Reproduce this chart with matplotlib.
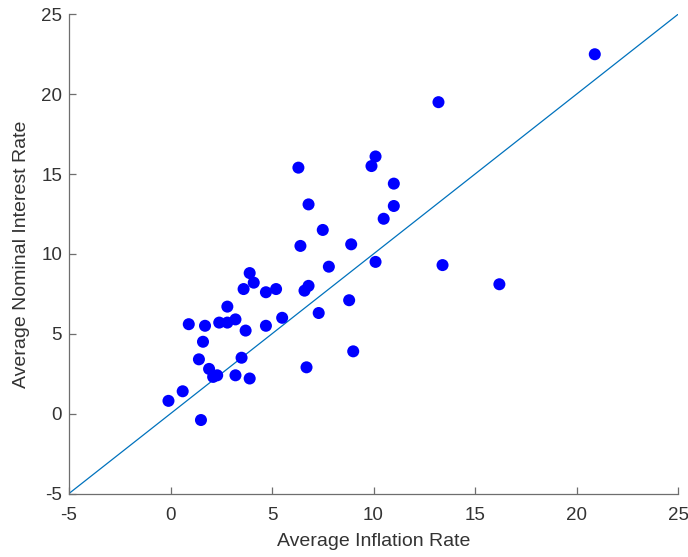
import matplotlib
matplotlib.use("Agg")
import matplotlib.pyplot as plt
import numpy as np

inflation = [-0.1, 0.6, 1.5, 0.9, 1.7, 1.6, 1.4, 1.9, 2.1, 2.3, 2.4, 2.8, 3.2, 2.8,
             3.7, 3.5, 3.2, 3.9, 3.6, 3.9, 4.1, 4.7, 5.2, 4.7, 5.5, 6.7, 6.6, 6.8,
             7.3, 7.8, 8.8, 9.0, 10.1, 6.3, 6.8, 6.4, 7.5, 8.9, 10.1, 9.9, 11.0,
             11.0, 10.5, 13.2, 20.9, 13.4, 16.2]
interest = [0.8, 1.4, -0.4, 5.6, 5.5, 4.5, 3.4, 2.8, 2.3, 2.4, 5.7, 5.7, 5.9, 6.7,
            5.2, 3.5, 2.4, 2.2, 7.8, 8.8, 8.2, 7.6, 7.8, 5.5, 6.0, 2.9, 7.7, 8.0,
            6.3, 9.2, 7.1, 3.9, 9.5, 15.4, 13.1, 10.5, 11.5, 10.6, 16.1, 15.5, 14.4,
            13.0, 12.2, 19.5, 22.5, 9.3, 8.1]
diag = [-5, 25]
xticks = [-5, 0, 5, 10, 15, 20, 25]
yticks = [-5, 0, 5, 10, 15, 20, 25]

plt.rcParams['font.family'] = ['Liberation Sans', 'DejaVu Sans']
fig = plt.figure(figsize=(6.88, 5.57), dpi=100)
ax = fig.add_axes([0.1003, 0.1140, 0.8852, 0.8603])

ax.plot(diag, diag, color='#0072BD', lw=0.9, zorder=1)
ax.scatter(inflation, interest, s=75, color='#0000FF', edgecolors='none', zorder=2)

ax.set_xlim(-5, 25)
ax.set_ylim(-5, 25)
ax.set_xticks(xticks)
ax.set_yticks(yticks)
ax.set_xticklabels([str(t) for t in xticks])
ax.set_yticklabels([str(t) for t in yticks])
for s in ['top', 'right']:
    ax.spines[s].set_visible(False)
for s in ['left', 'bottom']:
    ax.spines[s].set_color('#6e6e6e')
    ax.spines[s].set_linewidth(0.9)
ax.tick_params(direction='in', length=5, width=0.9, color='#6e6e6e',
               labelsize=13.5, labelcolor='#333333')
ax.tick_params(axis='x', pad=10)
ax.tick_params(axis='y', pad=5)
ax.set_xlabel('Average Inflation Rate', fontsize=14, color='#333333', labelpad=6)
ax.set_ylabel('Average Nominal Interest Rate', fontsize=14, color='#333333', labelpad=8)

fig.savefig('out.png', dpi=100)
